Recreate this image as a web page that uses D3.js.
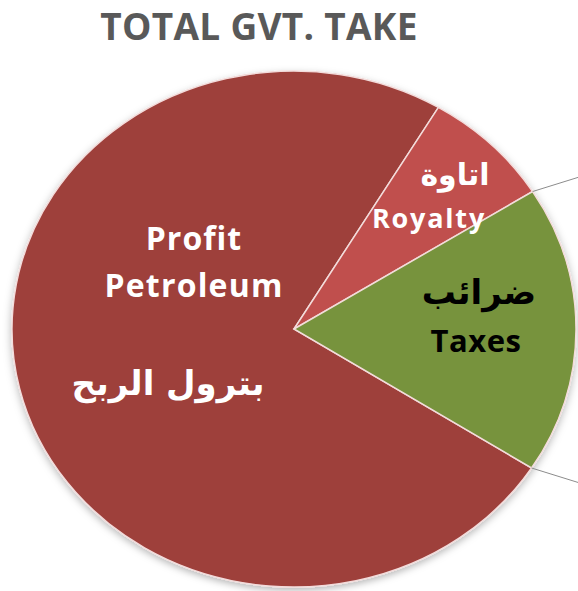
<!DOCTYPE html>
<meta charset="utf-8">
<style>

html, body {
  margin: 0;
  background: #fff;
}

svg {
  display: block;
}

.slices path {
  stroke: #f3dcdb;
  stroke-width: 1.5px;
  vector-effect: non-scaling-stroke;
}

.leaders line {
  stroke: #8c8c8c;
  stroke-width: 1px;
}

.title {
  font: bold 37px "Open Sans", sans-serif;
  fill: #595959;
}

.label {
  font-weight: bold;
}

.label.en {
  font-family: "Open Sans", sans-serif;
}

.label.ar {
  font-family: "DejaVu Sans", sans-serif;
}

</style>
<svg class="chart"></svg>
<script src="https://d3js.org/d3.v7.min.js"></script>
<script>

var width = 578;
var height = 591;

// Chart data
var categories = ['Profit Petroleum', 'Royalty', 'Taxes'];
var shares = [74.5, 7.5, 18];
var colors = ['#9e3f3b', '#c0504d', '#77933c'];
var startDeg = 122.6;

var title = 'TOTAL GVT. TAKE';

// label lines: [category index, text, lang, size, colour, dx, dy, letter spacing] (dx/dy from pie centre)
var labelLines = [
  [0, 'Profit', 'en', 32, '#fff', -100, -79, 1],
  [0, 'Petroleum', 'en', 32, '#fff', -100, -32, 1.2],
  [0, 'بترول الربح', 'ar', 34, '#fff', -126, 66, 0],
  [1, 'اتاوة', 'ar', 30, '#fff', 161, -144, 0],
  [1, 'Royalty', 'en', 27, '#fff', 135, -101, 1.8],
  [2, 'ضرائب', 'ar', 34, '#000', 185, -25, 0],
  [2, 'Taxes', 'en', 31, '#000', 182, 23, 0.5]
];

var cx = 294;
var cy = 329;
var r = 282;
var ry = 258;

var svg = d3.select('svg.chart')
  .attr('width', width)
  .attr('height', height);

var defs = svg.append('defs');
var shadow = defs.append('filter')
  .attr('id', 'shadow')
  .attr('x', '-10%').attr('y', '-10%')
  .attr('width', '120%').attr('height', '120%');
shadow.append('feDropShadow')
  .attr('dx', 0)
  .attr('dy', 3)
  .attr('stdDeviation', 4)
  .attr('flood-color', '#000')
  .attr('flood-opacity', 0.28);

svg.append('text')
  .attr('class', 'title')
  .attr('x', 259)
  .attr('y', 40)
  .attr('text-anchor', 'middle')
  .attr('letter-spacing', 0.3)
  .text(title);

var pie = d3.pie()
  .sort(null)
  .startAngle(startDeg * Math.PI / 180)
  .endAngle((startDeg + 360) * Math.PI / 180);

var arcs = pie(shares);

var arc = d3.arc()
  .innerRadius(0)
  .outerRadius(r);

var g = svg.append('g')
  .attr('class', 'slices')
  .attr('filter', 'url(#shadow)')
  .attr('transform', 'translate(' + cx + ',' + cy + ') scale(1,' + (ry / r) + ')');

g.selectAll('path')
  .data(arcs)
  .enter().append('path')
  .attr('d', arc)
  .attr('fill', function (d, i) { return colors[i]; })
  .append('title')
  .text(function (d, i) { return categories[i] + ': ' + shares[i] + '%'; });

// leader lines from the taxes slice edges out to the right
function edgePoint (a) {
  return [cx + r * Math.sin(a), cy - ry * Math.cos(a)];
}

var taxes = arcs[2];
var leaders = [
  {p: edgePoint(taxes.startAngle), dy: -14},
  {p: edgePoint(taxes.endAngle), dy: 14}
];

svg.append('g')
  .attr('class', 'leaders')
  .selectAll('line')
  .data(leaders)
  .enter().append('line')
  .attr('x1', function (d) { return d.p[0]; })
  .attr('y1', function (d) { return d.p[1]; })
  .attr('x2', function (d) { return width; })
  .attr('y2', function (d) { return d.p[1] + d.dy * (width - d.p[0]) / 45; });

svg.append('g')
  .attr('class', 'labels')
  .selectAll('text')
  .data(labelLines)
  .enter().append('text')
  .attr('class', function (d) { return 'label ' + d[2]; })
  .attr('x', function (d) { return cx + d[5]; })
  .attr('y', function (d) { return cy + d[6]; })
  .attr('text-anchor', 'middle')
  .attr('font-size', function (d) { return d[3] + 'px'; })
  .attr('letter-spacing', function (d) { return d[7]; })
  .attr('fill', function (d) { return d[4]; })
  .attr('direction', function (d) { return d[2] === 'ar' ? 'rtl' : 'ltr'; })
  .text(function (d) { return d[1]; });

</script>
